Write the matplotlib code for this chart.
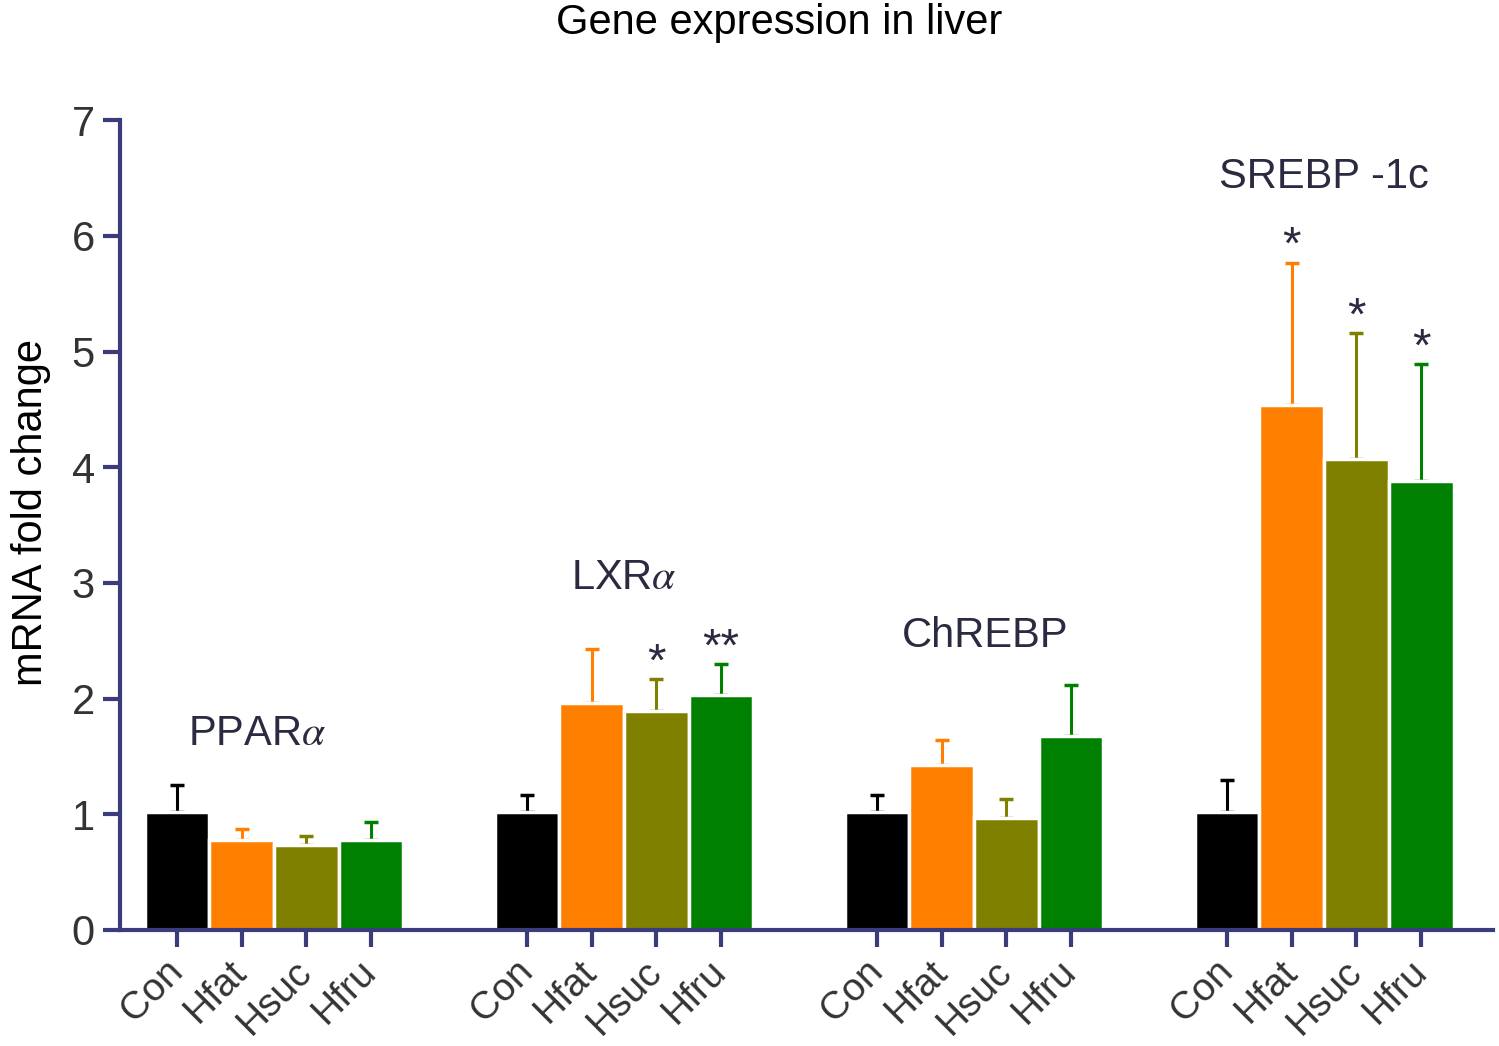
import numpy as np
import matplotlib.pyplot as plt

plt.rcParams['font.family'] = ['Liberation Sans', 'DejaVu Sans']
plt.rcParams['mathtext.fontset'] = 'stix'

genes = ["PPAR$\\alpha$", "LXR$\\alpha$", "ChREBP", "SREBP -1c"]
groups = ["Con", "Hfat", "Hsuc", "Hfru"]
colors = ["#000000", "#ff8000", "#808000", "#008000"]

means = [
    [1.02, 0.78, 0.73, 0.78],
    [1.02, 1.96, 1.89, 2.03],
    [1.02, 1.43, 0.97, 1.68],
    [1.02, 4.54, 4.07, 3.88],
]
errs = [
    [0.23, 0.09, 0.08, 0.15],
    [0.15, 0.47, 0.28, 0.27],
    [0.15, 0.21, 0.16, 0.44],
    [0.28, 1.23, 1.09, 1.01],
]
stars = [
    ["", "", "", ""],
    ["", "", "*", "**"],
    ["", "", "", ""],
    ["", "*", "*", "*"],
]
# gene label placement (x offset inside group, y in data units)
label_dx = [1.24, 1.5, 1.67, 1.5]
label_y = [1.69, 3.04, 2.54, 6.51]

axis_col = "#3a3c7c"
text_col = "#2a2a40"

fig = plt.figure(figsize=(14.99, 10.46), dpi=100)
ax = fig.add_axes([0.080, 0.111, 0.916, 0.774])

group_step = 5.41
xticks, xlabels = [], []
for g, gene in enumerate(genes):
    for i in range(4):
        x = g * group_step + i
        m = means[g][i]
        e = errs[g][i]
        ax.bar(x, m, width=1.0, color=colors[i], edgecolor="white", linewidth=2.5, zorder=2)
        ax.errorbar(x, m, yerr=[[0], [e]], color=colors[i], capsize=5, capthick=2.5,
                    elinewidth=2.2, zorder=1)
        if stars[g][i]:
            ax.text(x, m + e + 0.03, stars[g][i], ha="center", va="baseline",
                    fontsize=34, color=text_col)
        xticks.append(x)
        xlabels.append(groups[i])
    ax.text(g * group_step + label_dx[g], label_y[g], gene, ha="center", va="center",
            fontsize=30, color=text_col)

ax.set_xlim(-0.88, 20.34)
ax.set_ylim(0, 7)
ax.set_yticks(range(0, 8))
ax.set_xticks(xticks)
ax.set_xticklabels(xlabels, rotation=45, ha="right", va="center", rotation_mode="anchor",
                   fontsize=28, color="#333333")
ax.tick_params(axis="y", labelsize=30, labelcolor="#333333", length=12, width=3,
               color=axis_col, pad=6)
ax.tick_params(axis="x", length=12, width=3, color=axis_col, pad=14)

for side in ["top", "right"]:
    ax.spines[side].set_visible(False)
for side in ["left", "bottom"]:
    ax.spines[side].set_color(axis_col)
    ax.spines[side].set_linewidth(3)

ax.set_ylabel("mRNA fold change", fontsize=30, color="#000000")
ax.yaxis.set_label_coords(-0.05, 0.516)
fig.text(0.52, 0.978, "Gene expression in liver", fontsize=30, ha="center", va="center")

fig.savefig("out.png", dpi=100)
